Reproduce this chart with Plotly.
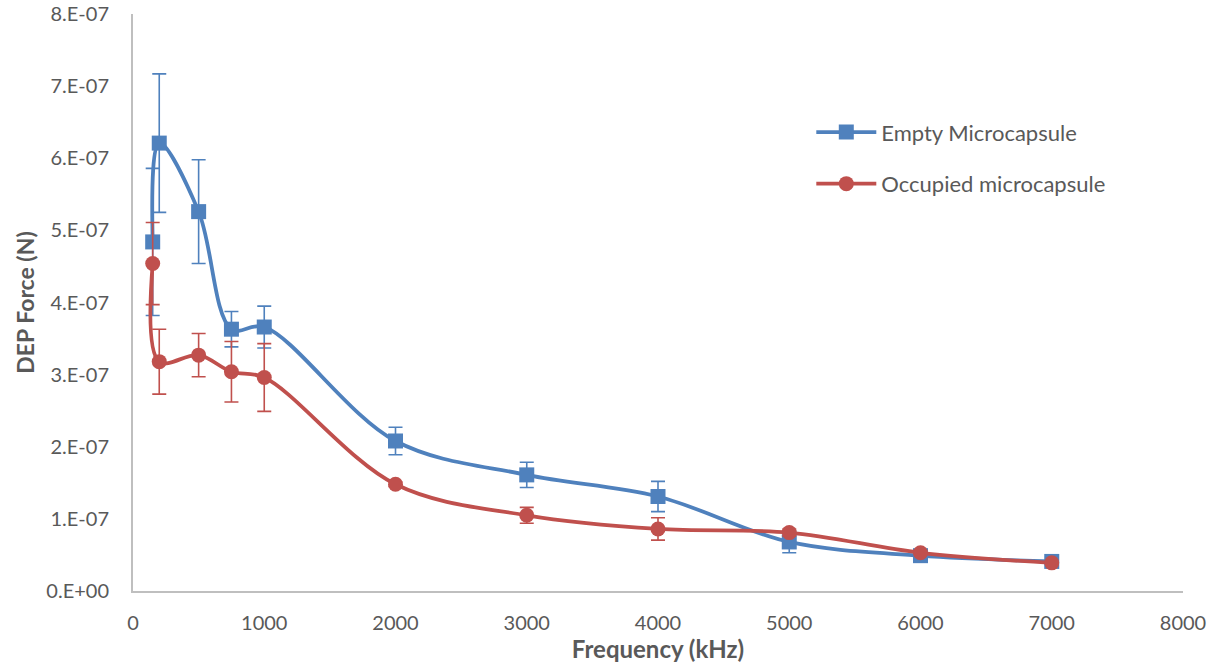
import plotly.graph_objects as go

freq = [150, 200, 500, 750, 1000, 2000, 3000, 4000, 5000, 6000, 7000]
empty_force = [4.84e-7, 6.21e-7, 5.26e-7, 3.63e-7, 3.66e-7, 2.08e-7, 1.61e-7, 1.31e-7, 0.68e-7, 0.49e-7, 0.41e-7]
empty_err = [1.02e-7, 0.96e-7, 0.72e-7, 0.245e-7, 0.29e-7, 0.19e-7, 0.175e-7, 0.21e-7, 0.15e-7, 0.02e-7, 0.01e-7]
occ_force = [4.54e-7, 3.18e-7, 3.27e-7, 3.04e-7, 2.96e-7, 1.48e-7, 1.05e-7, 0.86e-7, 0.81e-7, 0.53e-7, 0.39e-7]
occ_err = [0.57e-7, 0.45e-7, 0.30e-7, 0.42e-7, 0.47e-7, 0.03e-7, 0.11e-7, 0.155e-7, 0.05e-7, 0.02e-7, 0.01e-7]

y_tickvals = [0, 1e-7, 2e-7, 3e-7, 4e-7, 5e-7, 6e-7, 7e-7, 8e-7]
y_ticktext = ["0.E+00", "1.E-07", "2.E-07", "3.E-07", "4.E-07", "5.E-07", "6.E-07", "7.E-07", "8.E-07"]
x_tickvals = [0, 1000, 2000, 3000, 4000, 5000, 6000, 7000, 8000]

blue = "#4F81BD"
red = "#C0504D"
grey_text = "#595959"
font_family = "Lato, 'Open Sans', sans-serif"

fig = go.Figure()
fig.add_trace(go.Scatter(
    x=freq, y=empty_force, name="Empty Microcapsule", legendgroup="a",
    mode="lines+markers",
    line=dict(color=blue, width=3.8, shape="spline", smoothing=1.0),
    marker=dict(symbol="square", size=15, color=blue),
    error_y=dict(type="data", array=empty_err, visible=True, color=blue, thickness=1.6, width=7),
))
fig.add_trace(go.Scatter(
    x=freq, y=occ_force, name="Occupied microcapsule", legendgroup="b",
    mode="lines+markers",
    line=dict(color=red, width=3.8, shape="spline", smoothing=1.0),
    marker=dict(symbol="circle", size=15, color=red),
    error_y=dict(type="data", array=occ_err, visible=True, color=red, thickness=1.6, width=7),
))

fig.update_layout(
    width=1213, height=667,
    margin=dict(l=133, r=30, t=14, b=76),
    paper_bgcolor="white", plot_bgcolor="white",
    font=dict(family=font_family, size=20, color=grey_text),
    showlegend=True,
    legend=dict(x=0.646, y=0.75, xanchor="left", yanchor="middle",
                font=dict(size=22, color=grey_text), tracegroupgap=20,
                bgcolor="rgba(0,0,0,0)", itemwidth=60),
)
fig.update_xaxes(
    range=[0, 8000], tickvals=x_tickvals, showgrid=False, zeroline=False,
    showline=True, linecolor="#BFBFBF", linewidth=2, ticks="",
    ticklabelstandoff=13, automargin=False,
    title=dict(text="<b>Frequency (kHz)</b>", font=dict(size=24, color=grey_text), standoff=4),
)
fig.update_yaxes(
    range=[0, 8e-7], tickvals=y_tickvals, ticktext=y_ticktext, showgrid=False, zeroline=False,
    showline=True, linecolor="#BFBFBF", linewidth=2, ticks="",
    ticklabelstandoff=18, automargin=False,
    title=dict(text="<b>DEP Force (N)</b>", font=dict(size=23, color=grey_text), standoff=5),
)

fig.write_html(
    "out.html",
    config={"displayModeBar": False},
    post_script="document.body.style.margin='0';document.body.style.padding='0';",
)
